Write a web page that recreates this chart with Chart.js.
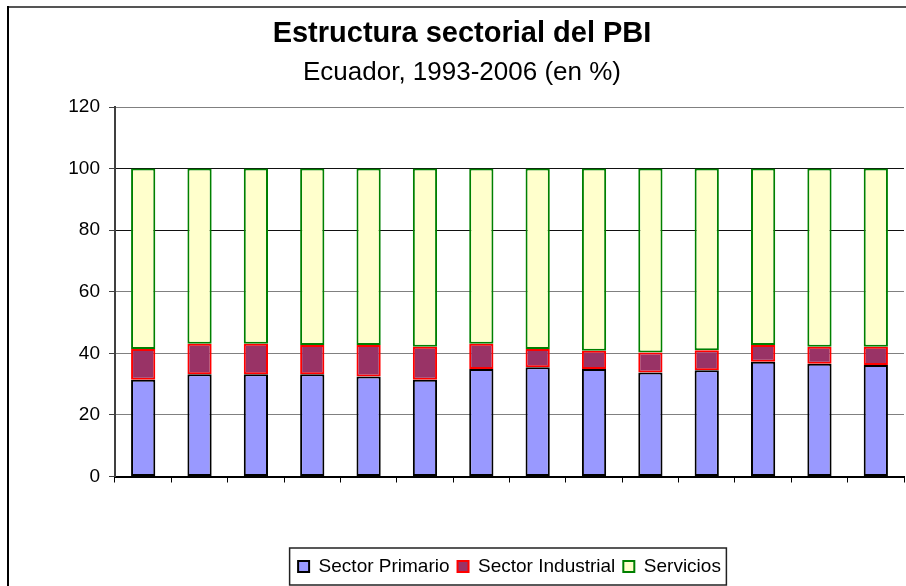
<!DOCTYPE html>
<html>
<head>
<meta charset="utf-8">
<title>Estructura sectorial del PBI</title>
<script src="https://cdn.jsdelivr.net/npm/chart.js@4.4.1/dist/chart.umd.min.js"></script>
<style>
  html, body { margin: 0; padding: 0; background: #fff; }
  #wrap { width: 906px; height: 586px; }
</style>
</head>
<body>
<div id="wrap"><canvas id="myChart" width="906" height="586"></canvas></div>
<script>
// years (the x axis has no labels in the original)
const years = ['1993', '1994', '1995', '1996', '1997', '1998', '1999',
               '2000', '2001', '2002', '2003', '2004', '2005', '2006'];
const primario   = [31.4, 33.2, 33.2, 33.2, 32.5, 31.4, 34.9, 35.5, 34.9, 33.8, 34.5, 37.3, 36.6, 36.2];
const industrial = [10.0,  9.9,  9.9,  9.5, 10.2, 10.7,  8.2,  5.9,  5.9,  6.5,  6.5,  5.4,  5.5,  5.9];
const servicios  = [58.6, 56.9, 56.9, 57.3, 57.3, 57.9, 56.9, 58.6, 59.2, 59.7, 59.0, 57.3, 57.9, 57.9];
const yTicks = [0, 20, 40, 60, 80, 100, 120];

const FONT = 'Liberation Sans, Arial, sans-serif';

// white background, the outer frame and the box round the legend
const frame = {
    id: 'frame',
    beforeDraw(chart) {
        const c = chart.ctx;
        c.save();
        c.fillStyle = '#fff';
        c.fillRect(0, 0, chart.width, chart.height);
        c.lineWidth = 2;
        c.strokeStyle = '#555';
        c.beginPath();
        c.moveTo(7, 7);
        c.lineTo(chart.width, 7);
        c.stroke();
        c.strokeStyle = '#000';
        c.beginPath();
        c.moveTo(8, 6);
        c.lineTo(8, chart.height);
        c.stroke();
        c.restore();
    },
    afterDraw(chart) {
        const boxes = chart.legend.legendHitBoxes;
        if (!boxes || !boxes.length) return;
        const first = boxes[0];
        const last = boxes[boxes.length - 1];
        const c = chart.ctx;
        const top = chart.legend.top - 1;
        c.save();
        c.strokeStyle = '#222';
        c.lineWidth = 1.5;
        c.strokeRect(first.left - 8.5, top, (last.left + last.width) - first.left + 14, 585 - top);
        c.restore();
    }
};

new Chart(document.getElementById('myChart'), {
    type: 'bar',
    data: {
        labels: years,
        datasets: [
            {
                label: 'Sector Primario',
                data: primario,
                backgroundColor: '#9999FF',
                borderColor: '#000000',
                borderWidth: 2,
                borderSkipped: false
            },
            {
                label: 'Sector Industrial',
                data: industrial,
                backgroundColor: '#993366',
                borderColor: '#FF0000',
                borderWidth: 2,
                borderSkipped: false
            },
            {
                label: 'Servicios',
                data: servicios,
                backgroundColor: '#FFFFCC',
                borderColor: '#008000',
                borderWidth: 2,
                borderSkipped: false
            }
        ]
    },
    options: {
        responsive: false,
        animation: false,
        layout: { padding: { left: 20, right: 2, top: 0, bottom: 0 } },
        categoryPercentage: 1,
        barPercentage: 0.43,
        scales: {
            x: {
                stacked: true,
                ticks: { display: false },
                grid: {
                    drawOnChartArea: false,
                    drawTicks: true,
                    tickLength: 6,
                    tickColor: '#000'
                },
                border: { color: '#000', width: 2 },
                afterFit(scale) { scale.height = 72.5; }
            },
            y: {
                stacked: true,
                min: 0,
                max: 120,
                afterBuildTicks(scale) {
                    scale.ticks = yTicks.map(v => ({ value: v }));
                },
                ticks: {
                    color: '#000',
                    padding: 9,
                    font: { family: FONT, size: 19 }
                },
                grid: {
                    color: ctx => (ctx.tick && (ctx.tick.value === 100 || ctx.tick.value === 80)) ? '#111' : '#808080',
                    lineWidth: 1,
                    tickLength: 6,
                    tickColor: '#404040'
                },
                border: { color: '#404040', width: 2 },
                afterFit(scale) { scale.width = 95; }
            }
        },
        plugins: {
            title: {
                display: true,
                text: 'Estructura sectorial del PBI',
                color: '#000',
                font: { family: FONT, size: 29, weight: 'bold' },
                padding: { top: 17, bottom: 0 }
            },
            subtitle: {
                display: true,
                text: 'Ecuador, 1993-2006 (en %)',
                color: '#000',
                font: { family: FONT, size: 26, weight: 'normal' },
                padding: { top: 5, bottom: 19 }
            },
            legend: {
                position: 'bottom',
                fullSize: false,
                labels: {
                    color: '#000',
                    boxWidth: 11,
                    boxHeight: 11,
                    padding: 8,
                    font: { family: FONT, size: 19 }
                }
            },
            tooltip: { enabled: false }
        }
    },
    plugins: [frame]
});
</script>
</body>
</html>
